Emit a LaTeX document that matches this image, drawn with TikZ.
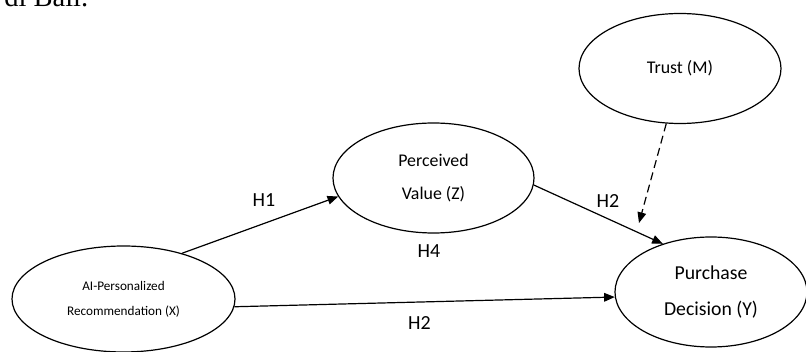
\documentclass[tikz,border=0pt]{standalone}
\usepackage{fontspec}
\setmainfont{Carlito}
\newfontfamily\bodyserif{Liberation Serif}
\usetikzlibrary{shapes.geometric,arrows.meta}
\begin{document}
\begin{tikzpicture}[x=0.75pt,y=-0.75pt,
  construct/.style={ellipse,draw,line width=0.9pt,inner sep=0pt,align=center},
  effect/.style={line width=0.9pt,-{Triangle[length=8pt,width=6.5pt]}},
  hyp/.style={font=\fontsize{15}{18}\selectfont,inner sep=0pt}]
\useasboundingbox (0,0) rectangle (806,352);

% tail of the preceding paragraph
\node[anchor=base west,inner sep=0pt,font=\bodyserif\fontsize{21.4}{24}\selectfont] (caption) at (4,7) {di Bali.};

% constructs
\node[construct,minimum width=151.5pt,minimum height=82.5pt,font=\fontsize{13.4}{18}\selectfont] (trust) at (680,68.5) {Trust (M)};
\node[construct,minimum width=150.75pt,minimum height=82.5pt,font=\fontsize{13.4}{24.75}\selectfont] (pv) at (433.5,178) {Perceived\\Value (Z)};
\node[construct,minimum width=167.25pt,minimum height=79.5pt,font=\fontsize{9.9}{18.75}\selectfont] (ai) at (123.5,299) {AI-Personalized\\Recommendation (X)};
\node[construct,minimum width=144pt,minimum height=82.5pt,font=\fontsize{14.8}{27}\selectfont] (pd) at (711,292) {Purchase\\Decision (Y)};

% paths
\draw[effect] (ai.38) -- (pv.191);
\draw[effect] (ai.-4) -- (pd.183);
\draw[effect] (pv.-4) -- (pd.135);
\coordinate (modend) at (639,223);
\draw[effect,dash pattern=on 6pt off 3.5pt] (trust.256) -- (modend);

% hypothesis labels
\node[hyp] (h1) at (264,200) {H1};
\node[hyp] (h2a) at (608,201) {H2};
\node[hyp] (h4) at (429,251.5) {H4};
\node[hyp] (h2b) at (419.5,323) {H2};
\end{tikzpicture}
\end{document}
